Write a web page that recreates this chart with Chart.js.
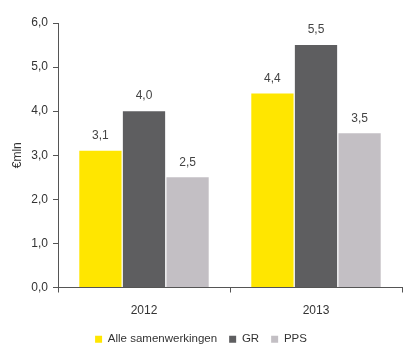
<!DOCTYPE html>
<html><head><meta charset="utf-8">
<script src="https://cdn.jsdelivr.net/npm/chart.js@4"></script>
<style>html,body{margin:0;padding:0;background:#fff}#wrap{width:404px;height:346px}</style>
</head><body><div id="wrap"><canvas id="c" width="404" height="346"></canvas></div>
<script>
const categories = ['2012', '2013'];
const seriesNames = ['Alle samenwerkingen', 'GR', 'PPS'];
const alleValues = [3.1, 4.4];
const grValues = [4.0, 5.5];
const ppsValues = [2.5, 3.5];
const yTicks = [0, 1, 2, 3, 4, 5, 6];
const yTitle = '€mln';

const colors = ['#FFE600', '#5E5E60', '#C3BFC4'];
const fmt = v => v.toFixed(1).replace('.', ',');
const FONT = 'Liberation Sans, Arial, sans-serif';

const labelPlugin = {
  id: 'vlabels',
  afterDatasetsDraw(chart) {
    const ctx = chart.ctx;
    ctx.save();
    ctx.font = '12px ' + FONT;
    ctx.fillStyle = '#444';
    ctx.textAlign = 'center';
    ctx.textBaseline = 'middle';
    chart.data.datasets.forEach((ds, i) => {
      chart.getDatasetMeta(i).data.forEach((bar, j) => {
        ctx.fillText(fmt(ds.data[j]), bar.x, bar.y - 15);
      });
    });
    ctx.restore();
  }
};

new Chart(document.getElementById('c'), {
  type: 'bar',
  data: {
    labels: categories,
    datasets: [
      { label: seriesNames[0], data: alleValues, backgroundColor: colors[0] },
      { label: seriesNames[1], data: grValues, backgroundColor: colors[1] },
      { label: seriesNames[2], data: ppsValues, backgroundColor: colors[2] }
    ]
  },
  options: {
    responsive: false,
    animation: false,
    devicePixelRatio: 1,
    layout: { padding: { top: 23, right: 2, left: 0, bottom: -9 } },
    datasets: { bar: { categoryPercentage: 0.76, barPercentage: 0.97 } },
    plugins: {
      tooltip: { enabled: false },
      legend: {
        position: 'bottom',
        labels: {
          font: { family: FONT, size: 11.5 },
          color: '#333',
          boxWidth: 7, boxHeight: 7,
          padding: 12
        }
      }
    },
    scales: {
      x: {
        grid: { display: true, drawOnChartArea: false, color: '#555', tickLength: 5, offset: true },
        border: { color: '#555', width: 1 },
        ticks: { font: { family: FONT, size: 12 }, color: '#333', padding: 11 },
        afterFit(s) { s.height = 34; }
      },
      y: {
        min: 0, max: 6,
        afterBuildTicks(s) { s.ticks = yTicks.map(v => ({ value: v })); },
        grid: { display: true, drawOnChartArea: false, color: '#555', tickLength: 5 },
        border: { color: '#555', width: 1 },
        ticks: { font: { family: FONT, size: 12 }, color: '#333', padding: 5, callback: v => fmt(v) },
        title: { display: true, text: yTitle, font: { family: FONT, size: 12 }, color: '#333', padding: { top: 10, bottom: 0 } },
        afterFit(s) { s.width = 58; }
      }
    }
  },
  plugins: [labelPlugin]
});
</script></body></html>
